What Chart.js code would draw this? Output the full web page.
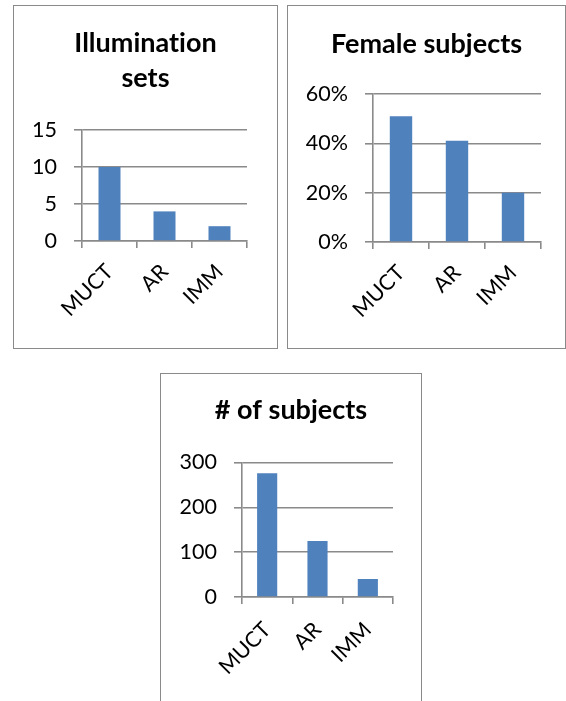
<!DOCTYPE html>
<html>
<head>
<meta charset="utf-8">
<script src="https://cdn.jsdelivr.net/npm/chart.js@4.4.0/dist/chart.umd.min.js"></script>
<style>
  html, body { margin: 0; padding: 0; background: #fff; width: 566px; height: 701px; overflow: hidden; }
  .panel { position: absolute; border: 1px solid #8a8a8a; background: #fff; }
  .panel canvas { display: block; }
</style>
</head>
<body>
<div class="panel" style="left:13px;top:5px;width:263px;height:342px"><canvas id="illum" width="263" height="342"></canvas></div>
<div class="panel" style="left:287px;top:5px;width:277px;height:342px"><canvas id="female" width="277" height="342"></canvas></div>
<div class="panel" style="left:160px;top:373px;width:260px;height:342px"><canvas id="subjects" width="260" height="342"></canvas></div>
<script>
// Databases compared in every panel
const categories = ['MUCT', 'AR', 'IMM'];

// Number of illumination sets per database
const illuminationSets = [10, 4, 2];
const illuminationTicks = [0, 5, 10, 15];

// Share of female subjects, in percent
const femaleShare = [51, 41, 20];
const femaleTicks = [0, 20, 40, 60];

// Number of subjects per database
const subjectCounts = [276, 125, 40];
const subjectTicks = [0, 100, 200, 300];

const BAR_BLUE = '#4F81BD';
const LINE_GREY = '#8a8a8a';
const FONT = 'Lato, "Open Sans", sans-serif';

// plain glyphs, no ligatures, for all canvas text
const plainText = {
  id: 'plainText',
  beforeDraw(chart) { chart.ctx.textRendering = 'optimizeSpeed'; }
};

function barPanel(id, titleLines, values, ticks, suffix, box) {
  const step = ticks[1] - ticks[0];
  return new Chart(document.getElementById(id), {
    type: 'bar',
    plugins: [plainText],
    data: {
      labels: categories,
      datasets: [{
        data: values,
        backgroundColor: BAR_BLUE,
        borderWidth: 0,
        barPercentage: 0.4,
        categoryPercentage: 1.0
      }]
    },
    options: {
      responsive: false,
      animation: false,
      devicePixelRatio: 1,
      layout: { padding: 0 },
      plugins: {
        legend: { display: false },
        tooltip: { enabled: false },
        title: {
          display: true,
          text: titleLines,
          color: '#000',
          font: { family: FONT, size: 27, weight: 'bold', lineHeight: '35px' },
          padding: { top: box.titleTop, bottom: box.titleBottom }
        }
      },
      scales: {
        x: {
          grid: {
            display: true,
            drawOnChartArea: false,
            drawTicks: true,
            tickLength: 7,
            color: LINE_GREY,
            lineWidth: 1.6,
            offset: true
          },
          border: { display: true, color: LINE_GREY, width: 1.6 },
          ticks: {
            color: '#000',
            font: { family: FONT, size: 21.5 },
            minRotation: 45,
            maxRotation: 45,
            autoSkip: false,
            padding: box.labelPad
          },
          afterFit: (s) => { s.height = box.xHeight; }
        },
        y: {
          min: ticks[0],
          max: ticks[ticks.length - 1],
          grid: {
            color: LINE_GREY,
            lineWidth: 1.6,
            drawTicks: true,
            tickLength: 8
          },
          border: { display: true, color: LINE_GREY, width: 1.6 },
          ticks: {
            stepSize: step,
            color: '#000',
            font: { family: FONT, size: 21.5 },
            padding: 17,
            callback: (v) => v + suffix
          },
          afterBuildTicks: (s) => { s.ticks = ticks.map(v => ({ value: v })); },
          afterFit: (s) => { s.width = box.yWidth; }
        },
        // empty margin on the right of the plot, so the title stays centred on the panel
        margin: {
          type: 'linear',
          position: 'right',
          display: true,
          grid: { display: false, drawTicks: false },
          border: { display: false },
          ticks: { display: false },
          afterFit: (s) => { s.width = box.padRight; }
        }
      }
    }
  });
}

barPanel('illum', ['Illumination', 'sets'], illuminationSets, illuminationTicks, '',
  { yWidth: 68, xHeight: 107, padRight: 30, titleTop: 19.5, titleBottom: 34.5, labelPad: 11 });
barPanel('female', 'Female subjects', femaleShare, femaleTicks, '%',
  { yWidth: 85, xHeight: 106, padRight: 24, titleTop: 20.5, titleBottom: 32.5, labelPad: 11 });
barPanel('subjects', '# of subjects', subjectCounts, subjectTicks, '',
  { yWidth: 81, xHeight: 119, padRight: 28, titleTop: 18.5, titleBottom: 35, labelPad: 13 });
</script>
</body>
</html>
